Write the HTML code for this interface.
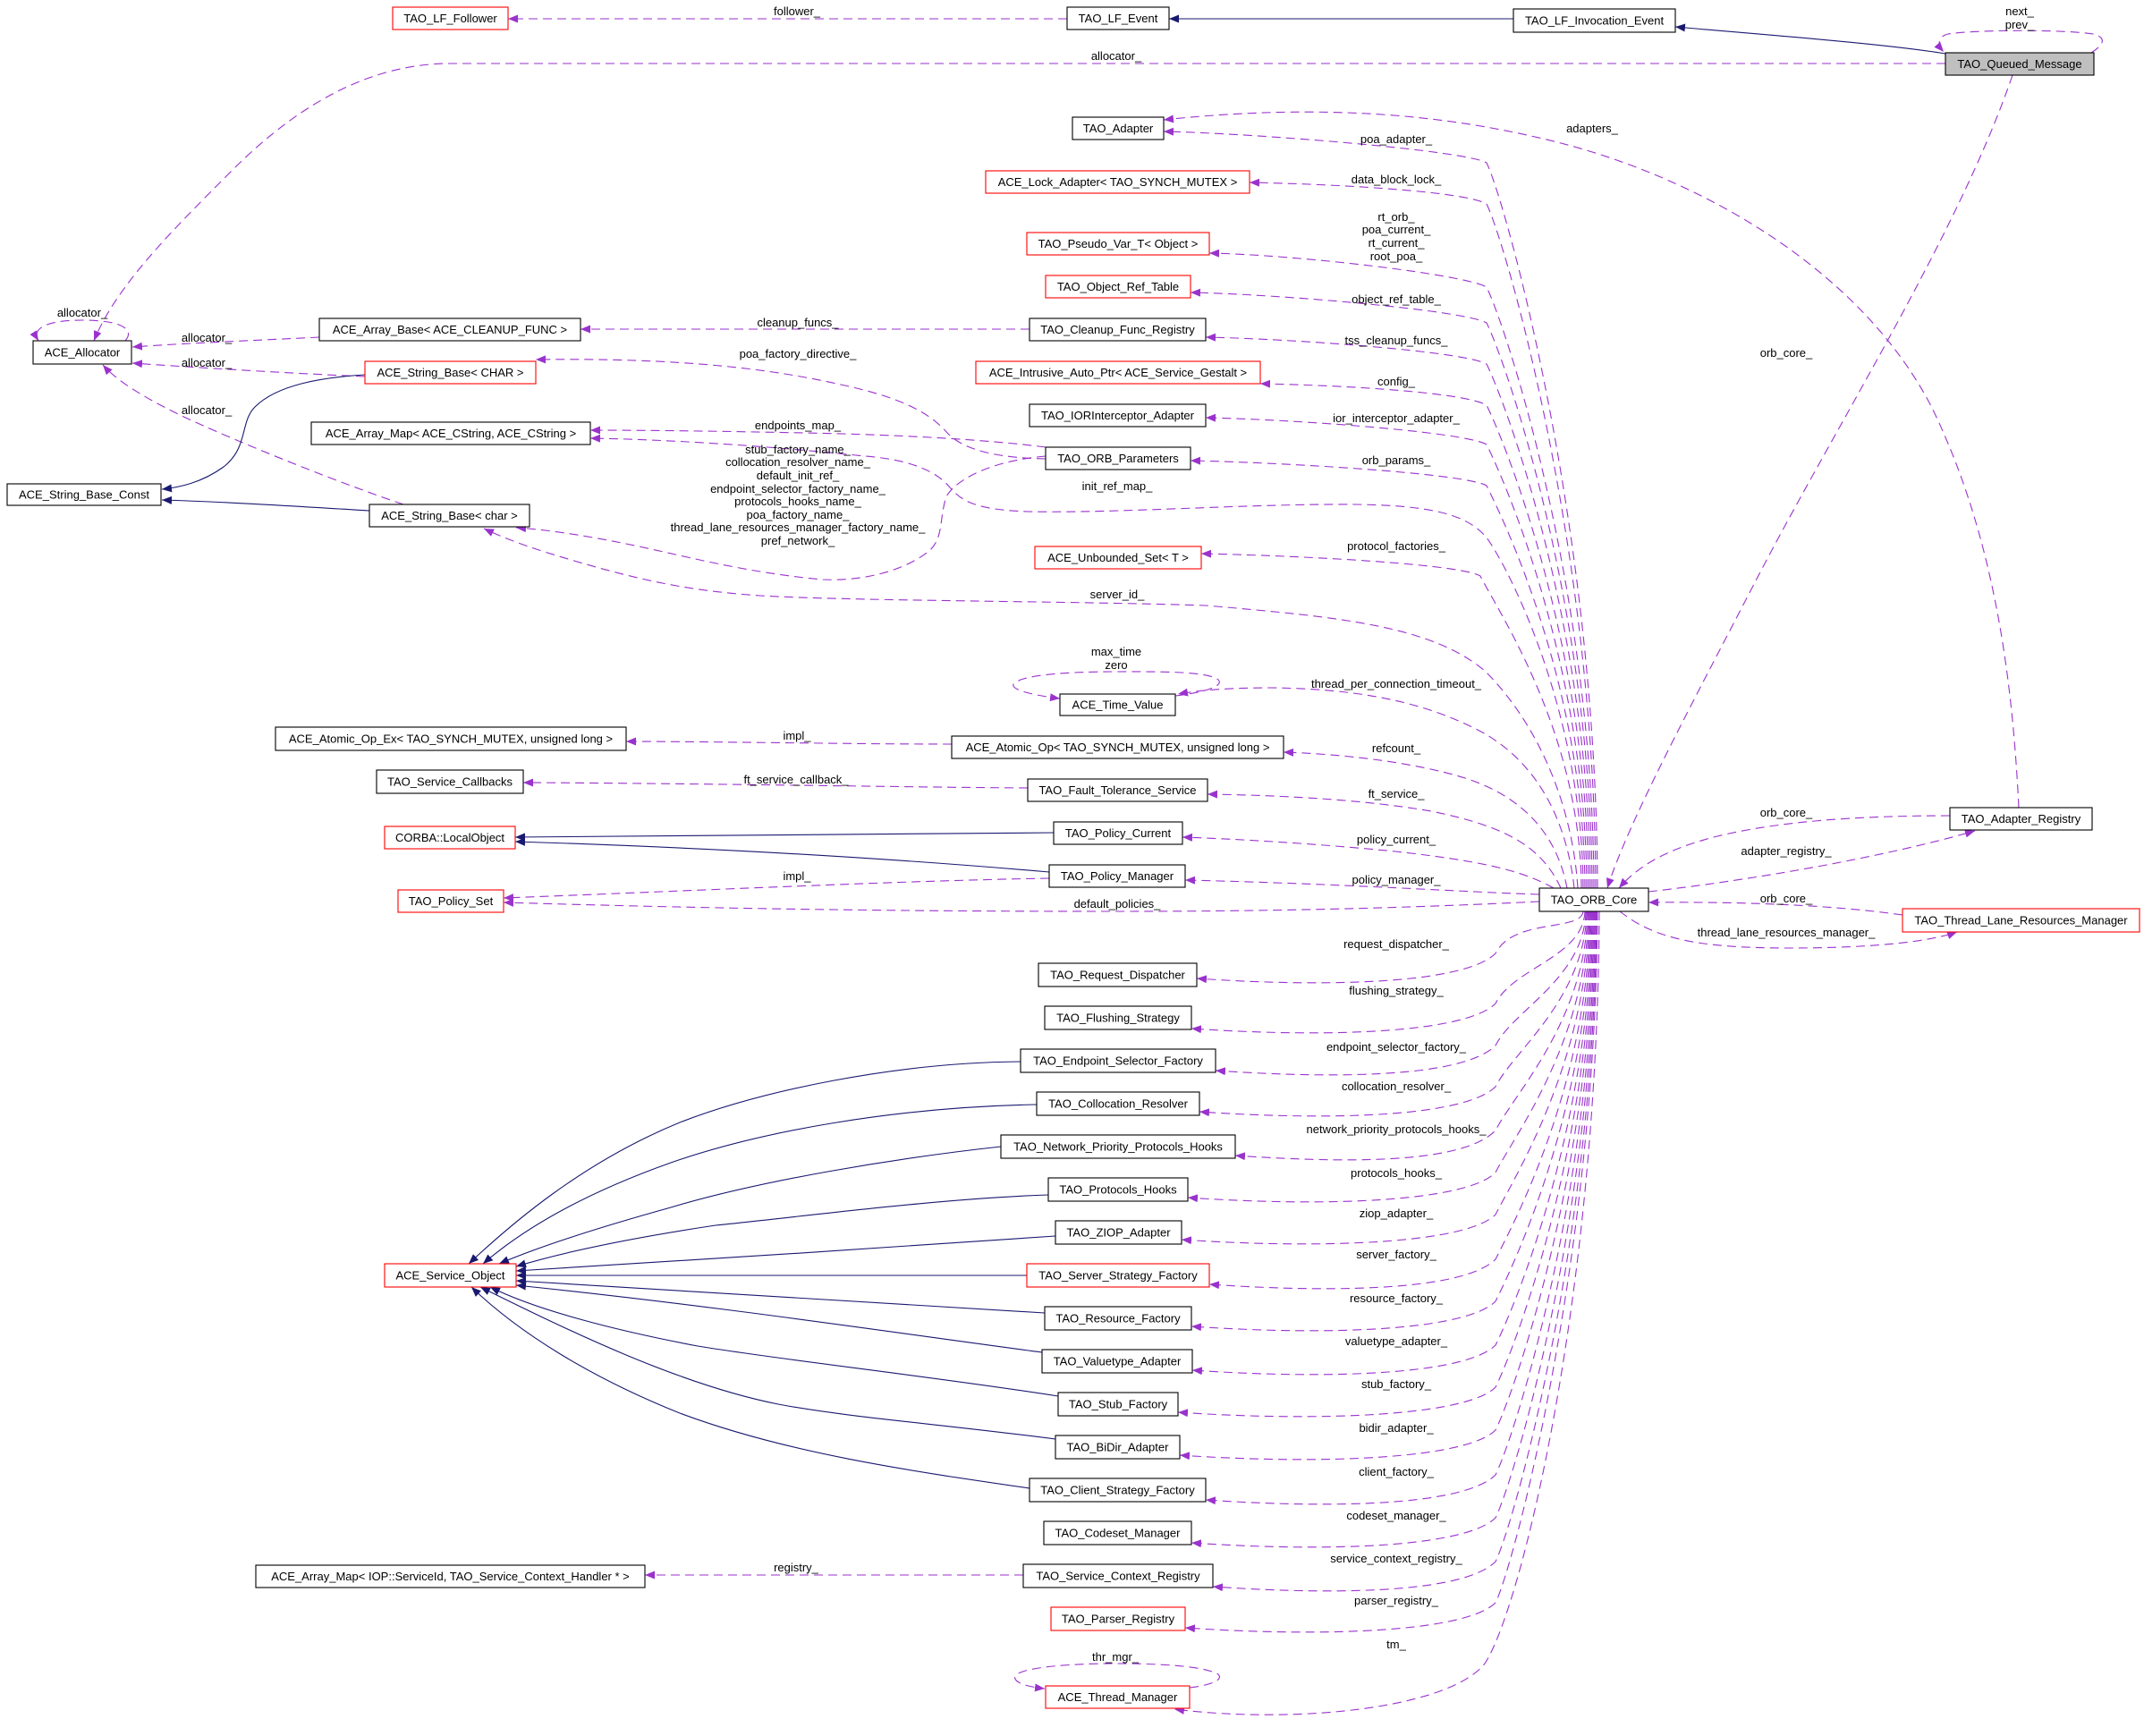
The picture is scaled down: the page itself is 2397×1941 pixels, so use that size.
<!DOCTYPE html>
<html><head><meta charset="utf-8"><style>
html,body{margin:0;padding:0;background:#fff;}
svg{display:block;}
text{font-family:"Liberation Sans",Arial,sans-serif;font-size:13px;fill:#000;}
.n{text-anchor:middle;}
.d{fill:none;stroke:#9a32cd;stroke-width:1.1;stroke-dasharray:10,6;}
.s{fill:none;stroke:#191970;stroke-width:1.1;}
.bk{fill:#fff;stroke:#000;stroke-width:1.1;}
.rd{fill:#fff;stroke:#ff0000;stroke-width:1.1;}
</style></head><body>
<svg width="2397" height="1941" viewBox="0 0 2397 1941" xmlns="http://www.w3.org/2000/svg">
<defs>
<marker id="p" viewBox="0 0 11 9" refX="11" refY="4.5" markerWidth="11" markerHeight="9" markerUnits="userSpaceOnUse" orient="auto"><path d="M0,0 L11,4.5 L0,9 z" fill="#9a32cd"/></marker>
<marker id="v" viewBox="0 0 11 9" refX="11" refY="4.5" markerWidth="11" markerHeight="9" markerUnits="userSpaceOnUse" orient="auto"><path d="M0,0 L11,4.5 L0,9 z" fill="#191970"/></marker>
</defs>
<rect width="2397" height="1941" fill="#fff"/>

<!-- ===== dashed edges (purple) ===== -->
<g class="d">
<path marker-end="url(#p)" d="M1193,21 L568,21"/>
<path marker-end="url(#p)" d="M2338,59 C2352,50 2356,42 2340,38 C2310,33 2210,33 2178,38 C2166,41 2166,50 2173,58"/>
<path marker-end="url(#p)" d="M2175,71 L500,71 C420,72 340,110 260,190 C190,260 130,320 105,381"/>
<path marker-end="url(#p)" d="M140,381 C150,370 140,358 92,358 C50,358 35,368 43,381"/>
<path marker-end="url(#p)" d="M357,377 C300,380 200,384 148,388"/>
<path marker-end="url(#p)" d="M408,421 C340,418 250,413 148,406"/>
<path marker-end="url(#p)" d="M451,564 C380,540 280,500 214,470 C160,445 130,425 115,408"/>
<path marker-end="url(#p)" d="M1151,368 L649,368"/>
<path marker-end="url(#p)" d="M1169,513 C1120,512 1080,505 1060,485 C1040,462 1010,445 940,430 C860,412 760,400 599,402"/>
<path marker-end="url(#p)" d="M1169,500 C1100,491 1000,486 900,484 C800,482 720,481 660,481"/>
<path marker-end="url(#p)" d="M1169,510 C1110,515 1070,535 1058,555 C1050,580 1055,600 1040,615 C1010,640 960,650 920,648 C830,640 760,620 700,608 C650,598 610,592 577,590"/>

<!-- top bundle from ORB_Core -->
<path marker-end="url(#p)" d="M1786,993 C1785,588 1682,222 1662,182 C1638,168 1401,149 1301,147"/>
<path marker-end="url(#p)" d="M1784,993 C1783,611 1682,268 1662,228 C1638,214 1497,206 1397,204"/>
<path marker-end="url(#p)" d="M1782,993 C1781,657 1682,361 1662,321 C1638,307 1452,285 1352,283"/>
<path marker-end="url(#p)" d="M1780,993 C1779,677 1682,401 1662,361 C1638,347 1431,329 1331,327"/>
<path marker-end="url(#p)" d="M1778,993 C1777,700 1682,447 1662,407 C1638,393 1448,379 1348,377"/>
<path marker-end="url(#p)" d="M1776,993 C1775,723 1682,493 1662,453 C1638,439 1509,431 1409,429"/>
<path marker-end="url(#p)" d="M1774,993 C1773,745 1682,537 1662,497 C1638,483 1448,469 1348,467"/>
<path marker-end="url(#p)" d="M1772,993 C1771,768 1682,583 1662,543 C1638,529 1431,517 1331,515"/>
<path marker-end="url(#p)" d="M1770,993 C1769,800 1690,640 1662,601 C1640,575 1600,565 1514,564 C1400,563 1250,574 1150,572 C1090,570 1075,560 1062,545 C1048,528 1020,514 967,510 C900,503 780,492 660,490"/>
<path marker-end="url(#p)" d="M1768,993 C1767,819 1675,684 1655,644 C1631,630 1443,621 1343,619"/>
<path marker-end="url(#p)" d="M1764,993 C1758,900 1720,810 1660,750 C1600,700 1500,690 1348,677 C1200,672 950,672 850,666 C760,660 700,645 612,618 C580,608 560,600 541,591"/>
<path marker-end="url(#p)" d="M1760,993 C1752,920 1720,850 1650,815 C1590,785 1520,770 1420,769 C1370,769 1340,772 1317,776"/>
<path marker-end="url(#p)" d="M1314,778 C1340,775 1370,768 1362,760 C1350,750 1290,751 1248,751 C1190,751 1140,755 1133,765 C1130,772 1160,778 1185,781"/>
<path marker-end="url(#p)" d="M1752,993 C1740,930 1700,890 1638,870 C1580,852 1500,843 1435,841"/>
<path marker-end="url(#p)" d="M1745,993 C1725,950 1690,925 1600,907 C1520,893 1420,889 1350,888"/>
<path marker-end="url(#p)" d="M1737,993 C1700,972 1650,962 1560,952 C1470,943 1380,938 1322,936"/>
<path marker-end="url(#p)" d="M1721,1000 C1650,998 1500,988 1325,984"/>
<path marker-end="url(#p)" d="M1721,1008 C1600,1014 1450,1019 1250,1019 C1000,1019 800,1016 563,1009"/>
<path marker-end="url(#p)" d="M1064,832 C950,832 800,829 700,829"/>
<path marker-end="url(#p)" d="M1149,881 C1000,880 800,876 585,875"/>
<path marker-end="url(#p)" d="M1173,982 C1000,985 800,995 563,1004"/>

<!-- right side -->
<path marker-end="url(#p)" d="M2257,903 C2250,760 2230,600 2160,456 C2080,300 1900,200 1745,160 C1620,128 1480,115 1301,134"/>
<path marker-end="url(#p)" d="M2250,84 C2190,260 2050,480 1960,655 C1890,790 1820,920 1797,993"/>
<path marker-end="url(#p)" d="M2180,912 C2080,912 1990,918 1920,935 C1860,950 1830,970 1810,993"/>
<path marker-end="url(#p)" d="M1843,997 C1950,985 2100,960 2208,929"/>
<path marker-end="url(#p)" d="M2127,1023 C2050,1012 1950,1008 1843,1009"/>
<path marker-end="url(#p)" d="M1811,1019 C1850,1050 1900,1060 2000,1060 C2100,1060 2160,1052 2188,1042"/>

<!-- bottom bundle -->
<path marker-end="url(#p)" d="M1770,1019 C1768,1042 1692,1026 1672,1066 C1640,1098 1498,1105 1338,1094"/>
<path marker-end="url(#p)" d="M1772,1019 C1770,1070 1692,1082 1672,1122 C1640,1154 1492,1161 1332,1150"/>
<path marker-end="url(#p)" d="M1773,1019 C1771,1094 1692,1129 1672,1169 C1640,1201 1519,1208 1359,1197"/>
<path marker-end="url(#p)" d="M1774,1019 C1772,1117 1692,1175 1672,1215 C1640,1247 1501,1254 1341,1243"/>
<path marker-end="url(#p)" d="M1775,1019 C1773,1141 1692,1224 1672,1264 C1640,1296 1541,1303 1381,1292"/>
<path marker-end="url(#p)" d="M1776,1019 C1774,1165 1692,1271 1672,1311 C1640,1343 1488,1350 1328,1339"/>
<path marker-end="url(#p)" d="M1777,1019 C1775,1188 1692,1318 1672,1358 C1640,1390 1481,1397 1321,1386"/>
<path marker-end="url(#p)" d="M1778,1019 C1776,1213 1692,1368 1672,1408 C1640,1440 1512,1447 1352,1436"/>
<path marker-end="url(#p)" d="M1779,1019 C1777,1237 1692,1415 1672,1455 C1640,1487 1492,1494 1332,1483"/>
<path marker-end="url(#p)" d="M1780,1019 C1778,1261 1692,1464 1672,1504 C1640,1536 1493,1543 1333,1532"/>
<path marker-end="url(#p)" d="M1781,1019 C1779,1285 1692,1511 1672,1551 C1640,1583 1477,1590 1317,1579"/>
<path marker-end="url(#p)" d="M1782,1019 C1780,1309 1692,1559 1672,1599 C1640,1631 1479,1638 1319,1627"/>
<path marker-end="url(#p)" d="M1783,1019 C1781,1334 1692,1609 1672,1649 C1640,1681 1508,1688 1348,1677"/>
<path marker-end="url(#p)" d="M1784,1019 C1782,1358 1692,1657 1672,1697 C1640,1729 1492,1736 1332,1725"/>
<path marker-end="url(#p)" d="M1785,1019 C1783,1382 1692,1706 1672,1746 C1640,1778 1516,1785 1356,1774"/>
<path marker-end="url(#p)" d="M1786,1019 C1784,1405 1692,1752 1672,1792 C1640,1824 1485,1831 1325,1820"/>
<path marker-end="url(#p)" d="M1788,1019 C1786,1450 1700,1800 1660,1860 C1620,1910 1450,1928 1313,1911"/>
<path marker-end="url(#p)" d="M1330,1887 C1355,1884 1368,1878 1362,1872 C1345,1862 1290,1860 1247,1860 C1190,1860 1140,1865 1135,1874 C1132,1881 1148,1886 1168,1888"/>
<path marker-end="url(#p)" d="M1144,1761 L721,1761"/>
</g>

<!-- ===== solid edges (navy) ===== -->
<g class="s">
<path marker-end="url(#v)" d="M1692,21 L1307,21"/>
<path marker-end="url(#v)" d="M2175,60 C2100,48 1960,38 1873,30"/>
<path marker-end="url(#v)" d="M408,419 C360,422 310,430 285,455 C268,472 278,500 250,522 C225,540 200,545 181,547"/>
<path marker-end="url(#v)" d="M413,571 C330,566 250,561 181,559"/>
<path marker-end="url(#v)" d="M1178,931 L576,936"/>
<path marker-end="url(#v)" d="M1173,975 C1000,960 800,948 576,941"/>
<path marker-end="url(#v)" d="M1141,1187 C1000,1188 850,1220 760,1255 C650,1300 570,1370 524,1413"/>
<path marker-end="url(#v)" d="M1159,1235 C1000,1238 850,1265 750,1300 C660,1332 590,1370 540,1413"/>
<path marker-end="url(#v)" d="M1119,1282 C1000,1295 850,1320 750,1350 C660,1375 600,1395 558,1413"/>
<path marker-end="url(#v)" d="M1172,1336 C1050,1340 900,1360 800,1370 C700,1385 630,1400 577,1416"/>
<path marker-end="url(#v)" d="M1180,1382 C1000,1395 750,1410 577,1421"/>
<path marker-end="url(#v)" d="M1148,1426 L577,1426"/>
<path marker-end="url(#v)" d="M1168,1468 C1000,1458 800,1445 577,1432"/>
<path marker-end="url(#v)" d="M1165,1512 C1000,1490 800,1460 577,1437"/>
<path marker-end="url(#v)" d="M1183,1561 C1050,1540 870,1520 780,1505 C690,1488 600,1465 548,1439"/>
<path marker-end="url(#v)" d="M1180,1609 C1050,1592 950,1585 870,1570 C760,1548 640,1490 537,1439"/>
<path marker-end="url(#v)" d="M1151,1664 C1020,1645 880,1625 760,1580 C660,1540 580,1490 527,1439"/>
</g>

<!-- ===== nodes ===== -->
<g>
<rect class="rd" x="439" y="8" width="129" height="25"/><text class="n" x="503.5" y="25">TAO_LF_Follower</text>
<rect class="bk" x="1193" y="8" width="114" height="25"/><text class="n" x="1250" y="25">TAO_LF_Event</text>
<rect class="bk" x="1692" y="10" width="181" height="26"/><text class="n" x="1782.5" y="27.5">TAO_LF_Invocation_Event</text>
<rect x="2175" y="59" width="166" height="25" fill="#bfbfbf" stroke="#000" stroke-width="1.1"/><text class="n" x="2258" y="76">TAO_Queued_Message</text>
<rect class="bk" x="1199" y="131" width="102" height="25"/><text class="n" x="1250" y="148">TAO_Adapter</text>
<rect class="rd" x="1102" y="191" width="295" height="25"/><text class="n" x="1249.5" y="208">ACE_Lock_Adapter&lt; TAO_SYNCH_MUTEX &gt;</text>
<rect class="rd" x="1148" y="260" width="204" height="25"/><text class="n" x="1250" y="277">TAO_Pseudo_Var_T&lt; Object &gt;</text>
<rect class="rd" x="1169" y="308" width="162" height="25"/><text class="n" x="1250" y="325">TAO_Object_Ref_Table</text>
<rect class="bk" x="1151" y="356" width="197" height="25"/><text class="n" x="1249.5" y="373">TAO_Cleanup_Func_Registry</text>
<rect class="rd" x="1091" y="404" width="318" height="25"/><text class="n" x="1250" y="421">ACE_Intrusive_Auto_Ptr&lt; ACE_Service_Gestalt &gt;</text>
<rect class="bk" x="1151" y="452" width="197" height="25"/><text class="n" x="1249.5" y="469">TAO_IORInterceptor_Adapter</text>
<rect class="bk" x="1169" y="500" width="162" height="25"/><text class="n" x="1250" y="517">TAO_ORB_Parameters</text>
<rect class="rd" x="1157" y="611" width="186" height="25"/><text class="n" x="1250" y="628">ACE_Unbounded_Set&lt; T &gt;</text>
<rect class="bk" x="1185" y="776" width="129" height="24"/><text class="n" x="1249.5" y="792.5">ACE_Time_Value</text>
<rect class="bk" x="1064" y="823" width="371" height="25"/><text class="n" x="1249.5" y="840">ACE_Atomic_Op&lt; TAO_SYNCH_MUTEX, unsigned long &gt;</text>
<rect class="bk" x="1149" y="871" width="201" height="25"/><text class="n" x="1249.5" y="888">TAO_Fault_Tolerance_Service</text>
<rect class="bk" x="1178" y="919" width="144" height="25"/><text class="n" x="1250" y="936">TAO_Policy_Current</text>
<rect class="bk" x="1173" y="967" width="152" height="25"/><text class="n" x="1249" y="984">TAO_Policy_Manager</text>
<rect class="bk" x="1721" y="993" width="122" height="26"/><text class="n" x="1782" y="1010.5">TAO_ORB_Core</text>
<rect class="bk" x="2180" y="903" width="159" height="25"/><text class="n" x="2259.5" y="920">TAO_Adapter_Registry</text>
<rect class="rd" x="2127" y="1016" width="265" height="26"/><text class="n" x="2259.5" y="1033.5">TAO_Thread_Lane_Resources_Manager</text>
<rect class="bk" x="1161" y="1077" width="177" height="26"/><text class="n" x="1249.5" y="1094.5">TAO_Request_Dispatcher</text>
<rect class="bk" x="1168" y="1125" width="164" height="26"/><text class="n" x="1250" y="1142.5">TAO_Flushing_Strategy</text>
<rect class="bk" x="1141" y="1173" width="218" height="26"/><text class="n" x="1250" y="1190.5">TAO_Endpoint_Selector_Factory</text>
<rect class="bk" x="1159" y="1221" width="182" height="26"/><text class="n" x="1250" y="1238.5">TAO_Collocation_Resolver</text>
<rect class="bk" x="1119" y="1269" width="262" height="26"/><text class="n" x="1250" y="1286.5">TAO_Network_Priority_Protocols_Hooks</text>
<rect class="bk" x="1172" y="1317" width="156" height="26"/><text class="n" x="1250" y="1334.5">TAO_Protocols_Hooks</text>
<rect class="bk" x="1180" y="1365" width="141" height="26"/><text class="n" x="1250.5" y="1382.5">TAO_ZIOP_Adapter</text>
<rect class="rd" x="1148" y="1413" width="204" height="26"/><text class="n" x="1250" y="1430.5">TAO_Server_Strategy_Factory</text>
<rect class="bk" x="1168" y="1461" width="164" height="26"/><text class="n" x="1250" y="1478.5">TAO_Resource_Factory</text>
<rect class="bk" x="1165" y="1509" width="168" height="26"/><text class="n" x="1249" y="1526.5">TAO_Valuetype_Adapter</text>
<rect class="bk" x="1183" y="1557" width="134" height="26"/><text class="n" x="1250" y="1574.5">TAO_Stub_Factory</text>
<rect class="bk" x="1180" y="1605" width="139" height="26"/><text class="n" x="1249.5" y="1622.5">TAO_BiDir_Adapter</text>
<rect class="bk" x="1151" y="1653" width="197" height="26"/><text class="n" x="1249.5" y="1670.5">TAO_Client_Strategy_Factory</text>
<rect class="bk" x="1167" y="1701" width="165" height="26"/><text class="n" x="1249.5" y="1718.5">TAO_Codeset_Manager</text>
<rect class="bk" x="1144" y="1749" width="212" height="26"/><text class="n" x="1250" y="1766.5">TAO_Service_Context_Registry</text>
<rect class="rd" x="1175" y="1797" width="150" height="26"/><text class="n" x="1250" y="1814.5">TAO_Parser_Registry</text>
<rect class="rd" x="1169" y="1885" width="161" height="25"/><text class="n" x="1249.5" y="1902">ACE_Thread_Manager</text>
<rect class="bk" x="37" y="381" width="110" height="26"/><text class="n" x="92" y="398.5">ACE_Allocator</text>
<rect class="bk" x="357" y="356" width="292" height="25"/><text class="n" x="503" y="373">ACE_Array_Base&lt; ACE_CLEANUP_FUNC &gt;</text>
<rect class="rd" x="408" y="404" width="191" height="25"/><text class="n" x="503.5" y="421">ACE_String_Base&lt; CHAR &gt;</text>
<rect class="bk" x="348" y="472" width="312" height="25"/><text class="n" x="504" y="489">ACE_Array_Map&lt; ACE_CString, ACE_CString &gt;</text>
<rect class="bk" x="8" y="541" width="172" height="24"/><text class="n" x="94" y="557.5">ACE_String_Base_Const</text>
<rect class="bk" x="413" y="564" width="179" height="25"/><text class="n" x="502.5" y="581">ACE_String_Base&lt; char &gt;</text>
<rect class="bk" x="308" y="813" width="392" height="26"/><text class="n" x="504" y="830.5">ACE_Atomic_Op_Ex&lt; TAO_SYNCH_MUTEX, unsigned long &gt;</text>
<rect class="bk" x="421" y="861" width="164" height="26"/><text class="n" x="503" y="878.5">TAO_Service_Callbacks</text>
<rect class="rd" x="430" y="924" width="146" height="25"/><text class="n" x="503" y="941">CORBA::LocalObject</text>
<rect class="rd" x="445" y="995" width="118" height="25"/><text class="n" x="504" y="1012">TAO_Policy_Set</text>
<rect class="rd" x="430" y="1413" width="147" height="26"/><text class="n" x="503.5" y="1430.5">ACE_Service_Object</text>
<rect class="bk" x="286" y="1750" width="435" height="25"/><text class="n" x="503.5" y="1767">ACE_Array_Map&lt; IOP::ServiceId, TAO_Service_Context_Handler * &gt;</text>
</g>

<!-- ===== edge labels ===== -->
<g class="n">
<text class="n" x="891" y="17">follower_</text>
<text class="n" x="1248" y="67">allocator_</text>
<text class="n" x="2258" y="17">next_</text>
<text class="n" x="2258" y="32">prev_</text>
<text class="n" x="92" y="354">allocator_</text>
<text class="n" x="231" y="382">allocator_</text>
<text class="n" x="231" y="410">allocator_</text>
<text class="n" x="231" y="463">allocator_</text>
<text class="n" x="892" y="365">cleanup_funcs_</text>
<text class="n" x="892" y="400">poa_factory_directive_</text>
<text class="n" x="892" y="480">endpoints_map_</text>
<text class="n" x="892" y="507">stub_factory_name_</text>
<text class="n" x="892" y="521">collocation_resolver_name_</text>
<text class="n" x="892" y="536">default_init_ref_</text>
<text class="n" x="892" y="551">endpoint_selector_factory_name_</text>
<text class="n" x="892" y="565">protocols_hooks_name_</text>
<text class="n" x="892" y="580">poa_factory_name_</text>
<text class="n" x="892" y="594">thread_lane_resources_manager_factory_name_</text>
<text class="n" x="892" y="609">pref_network_</text>
<text class="n" x="1780" y="148">adapters_</text>
<text class="n" x="1561" y="160">poa_adapter_</text>
<text class="n" x="1561" y="205">data_block_lock_</text>
<text class="n" x="1561" y="247">rt_orb_</text>
<text class="n" x="1561" y="261">poa_current_</text>
<text class="n" x="1561" y="276">rt_current_</text>
<text class="n" x="1561" y="291">root_poa_</text>
<text class="n" x="1561" y="339">object_ref_table_</text>
<text class="n" x="1561" y="385">tss_cleanup_funcs_</text>
<text class="n" x="1561" y="431">config_</text>
<text class="n" x="1561" y="472">ior_interceptor_adapter_</text>
<text class="n" x="1561" y="519">orb_params_</text>
<text class="n" x="1249" y="548">init_ref_map_</text>
<text class="n" x="1561" y="615">protocol_factories_</text>
<text class="n" x="1997" y="399">orb_core_</text>
<text class="n" x="1249" y="669">server_id_</text>
<text class="n" x="1248" y="733">max_time</text>
<text class="n" x="1248" y="748">zero</text>
<text class="n" x="1561" y="769">thread_per_connection_timeout_</text>
<text class="n" x="891" y="827">impl_</text>
<text class="n" x="1561" y="841">refcount_</text>
<text class="n" x="890" y="876">ft_service_callback_</text>
<text class="n" x="1561" y="892">ft_service_</text>
<text class="n" x="1561" y="943">policy_current_</text>
<text class="n" x="891" y="984">impl_</text>
<text class="n" x="1561" y="988">policy_manager_</text>
<text class="n" x="1249" y="1015">default_policies_</text>
<text class="n" x="1997" y="913">orb_core_</text>
<text class="n" x="1997" y="956">adapter_registry_</text>
<text class="n" x="1997" y="1009">orb_core_</text>
<text class="n" x="1997" y="1047">thread_lane_resources_manager_</text>
<text class="n" x="1561" y="1060">request_dispatcher_</text>
<text class="n" x="1561" y="1112">flushing_strategy_</text>
<text class="n" x="1561" y="1175">endpoint_selector_factory_</text>
<text class="n" x="1561" y="1219">collocation_resolver_</text>
<text class="n" x="1561" y="1267">network_priority_protocols_hooks_</text>
<text class="n" x="1561" y="1316">protocols_hooks_</text>
<text class="n" x="1561" y="1361">ziop_adapter_</text>
<text class="n" x="1561" y="1407">server_factory_</text>
<text class="n" x="1561" y="1456">resource_factory_</text>
<text class="n" x="1561" y="1504">valuetype_adapter_</text>
<text class="n" x="1561" y="1552">stub_factory_</text>
<text class="n" x="1561" y="1601">bidir_adapter_</text>
<text class="n" x="1561" y="1650">client_factory_</text>
<text class="n" x="1561" y="1699">codeset_manager_</text>
<text class="n" x="890" y="1757">registry_</text>
<text class="n" x="1561" y="1747">service_context_registry_</text>
<text class="n" x="1561" y="1794">parser_registry_</text>
<text class="n" x="1561" y="1843">tm_</text>
<text class="n" x="1247" y="1857">thr_mgr_</text>
</g>
</svg>
</body></html>
